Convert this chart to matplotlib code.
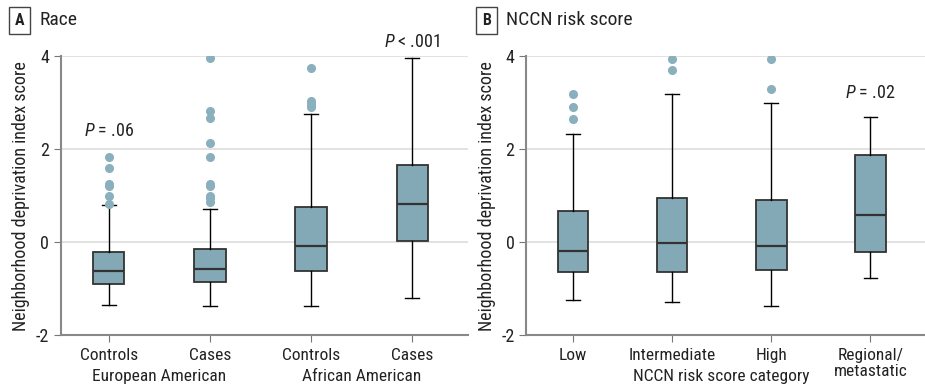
import matplotlib
matplotlib.use("Agg")
import matplotlib.pyplot as plt

plt.rcParams['font.family'] = ['Roboto Condensed', 'Open Sans', 'DejaVu Sans']
plt.rcParams['mathtext.fontset'] = 'custom'
plt.rcParams['mathtext.rm'] = 'Roboto Condensed'
plt.rcParams['mathtext.it'] = 'Roboto Condensed:italic'

# Panel A: race
race_labels = ['Controls', 'Cases', 'Controls', 'Cases']
race_groups = ['European American', 'African American']
race_med = [-0.62, -0.57, -0.09, 0.83]
race_q1 = [-0.89, -0.85, -0.61, 0.015]
race_q3 = [-0.215, -0.157, 0.76, 1.655]
race_lo = [-1.36, -1.37, -1.37, -1.21]
race_hi = [0.79, 0.71, 2.76, 3.97]
race_out = [
    [1.84, 1.60, 1.26, 1.21, 0.985, 0.83],
    [3.97, 2.83, 2.68, 2.14, 1.84, 1.26, 1.20, 1.00, 0.94, 0.87],
    [3.75, 3.04, 2.97, 2.90],
    [],
]

# Panel B: NCCN risk score
nccn_labels = ['Low', 'Intermediate', 'High', 'Regional/\nmetastatic']
nccn_med = [-0.19, -0.01, -0.08, 0.59]
nccn_q1 = [-0.645, -0.645, -0.60, -0.21]
nccn_q3 = [0.67, 0.95, 0.90, 1.87]
nccn_lo = [-1.24, -1.28, -1.38, -0.77]
nccn_hi = [2.33, 3.18, 3.00, 2.70]
nccn_out = [
    [3.18, 2.90, 2.65],
    [3.93, 3.71],
    [3.93, 3.29],
    [],
]

box_color = '#84a9b6'
dot_color = '#8aafbd'
edge_color = '#333333'
text_color = '#222222'


def make_stats(med, q1, q3, lo, hi, out):
    return [dict(med=m, q1=a, q3=b, whislo=l, whishi=h, fliers=f)
            for m, a, b, l, h, f in zip(med, q1, q3, lo, hi, out)]


def draw_panel(ax, stats, labels):
    ax.bxp(stats, positions=range(len(stats)), widths=0.31, capwidths=0.14,
           patch_artist=True, showfliers=True,
           boxprops=dict(facecolor=box_color, edgecolor=edge_color, linewidth=1.3),
           medianprops=dict(color=edge_color, linewidth=1.6),
           whiskerprops=dict(color='black', linewidth=1.0),
           capprops=dict(color='black', linewidth=1.0),
           flierprops=dict(marker='o', markerfacecolor=dot_color,
                           markeredgecolor=dot_color, markersize=5.5))
    ax.set_ylim(-2, 4)
    ax.set_xlim(-0.47, 3.55)
    ax.set_yticks([-2, 0, 2, 4])
    ax.set_yticklabels(['-2', '0', '2', '4'])
    ax.set_xticks(range(len(labels)))
    ax.set_xticklabels(labels, fontsize=12.5, color=text_color, linespacing=1.1)
    ax.tick_params(axis='y', labelsize=13, colors=text_color, length=5, color='#777777')
    ax.tick_params(axis='x', length=5, color='#777777', pad=4)
    for y in [0, 2, 4]:
        ax.axhline(y, color='#dddddd', linewidth=1.2, zorder=0)
    for s in ['top', 'right']:
        ax.spines[s].set_visible(False)
    for s in ['left', 'bottom']:
        ax.spines[s].set_color('#888888')
        ax.spines[s].set_linewidth(1.5)
    ax.set_ylabel('Neighborhood deprivation index score', fontsize=13,
                  color=text_color, labelpad=4)


def p_text(ax, x, y, rel, val):
    ax.text(x, y, r'$\mathit{P}$' + ' ' + rel + ' ' + val, ha='center', va='center',
            fontsize=13, color=text_color)


fig = plt.figure(figsize=(9.25, 3.87), dpi=100)
axA = fig.add_axes([0.066, 0.134, 0.440, 0.721])
axB = fig.add_axes([0.569, 0.134, 0.431, 0.721])

draw_panel(axA, make_stats(race_med, race_q1, race_q3, race_lo, race_hi, race_out), race_labels)
draw_panel(axB, make_stats(nccn_med, nccn_q1, nccn_q3, nccn_lo, nccn_hi, nccn_out), nccn_labels)

p_text(axA, 0, 2.38, '=', '.06')
p_text(axA, 3, 4.3, '<', '.001')
p_text(axB, 3, 3.2, '=', '.02')

for i, g in enumerate(race_groups):
    axA.text(0.5 + 2 * i, -2.9, g, ha='center', va='center', fontsize=12.5, color=text_color)
axB.text(1.5, -2.9, 'NCCN risk score category', ha='center', va='center',
         fontsize=12.5, color=text_color)

# panel headers
for x, letter, title in [(0.0087, 'A', 'Race'), (0.513, 'B', 'NCCN risk score')]:
    fig.text(x + 0.0125, 0.948, letter, ha='center', va='center', fontsize=11.5,
             fontweight='bold', color=text_color,
             bbox=dict(boxstyle='square,pad=0.38', facecolor='white',
                       edgecolor='#444444', linewidth=1.0))
    fig.text(x + 0.034, 0.948, title, ha='left', va='center', fontsize=14, color=text_color)

fig.savefig('out.png', dpi=100)
